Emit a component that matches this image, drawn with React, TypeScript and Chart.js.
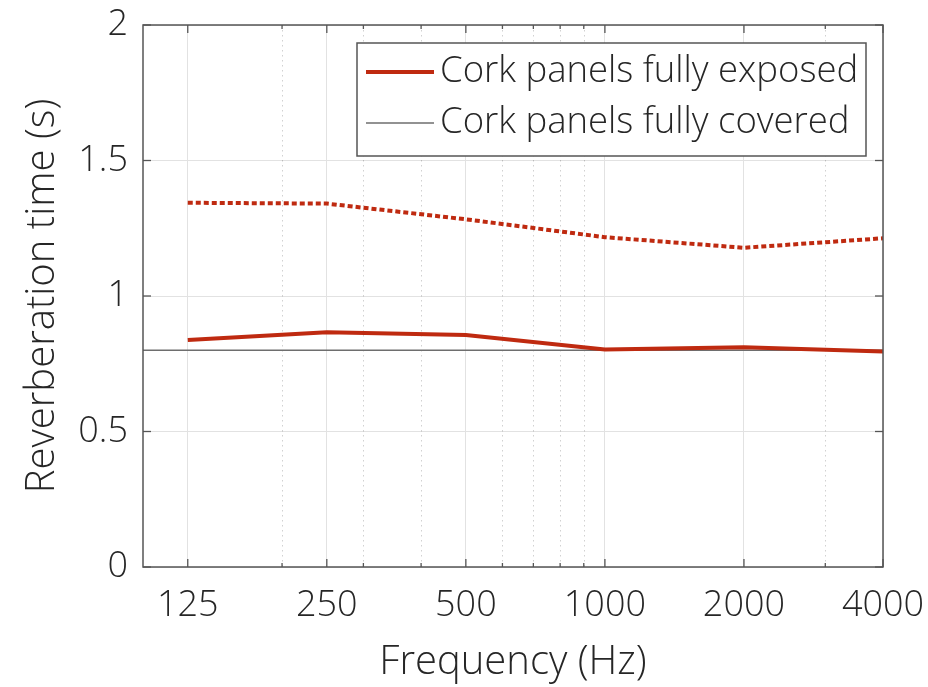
import { useEffect, useRef } from 'react';
import { Chart, registerables } from 'chart.js';

Chart.register(...registerables);

// ---- data ----
const frequencies = [125, 250, 500, 1000, 2000, 4000];
const exposedValues = [0.838, 0.866, 0.856, 0.803, 0.811, 0.795];
const dottedValues = [1.344, 1.341, 1.283, 1.217, 1.178, 1.213];
const coveredFrequencies = [100, 4000];
const coveredValues = [0.8, 0.8];
const xMajorTicks = [125, 250, 500, 1000, 2000, 4000];
const xMinorTicks = [200, 300, 400, 600, 700, 800, 900, 3000];
const yTicks = [0, 0.5, 1, 1.5, 2];
const seriesLabels = ['Cork panels fully exposed', 'Cork panels fully covered', 'Unlabelled series'];

const FONT = '"Open Sans", "DejaVu Sans", sans-serif';
const TEXT = '#262626';
const RED = '#bf2a10';
const GRAY = '#6e6e6e';

const framePlugin = {
  id: 'frame',
  beforeDatasetsDraw(chart: any) {
    const { ctx, chartArea, scales } = chart;
    const { top, bottom } = chartArea;
    ctx.save();
    ctx.strokeStyle = 'rgba(0,0,0,0.18)';
    ctx.lineWidth = 1;
    ctx.setLineDash([1.5, 3.5]);
    xMinorTicks.forEach((v) => {
      const px = Math.round(scales.x.getPixelForValue(v)) + 0.5;
      ctx.beginPath();
      ctx.moveTo(px, top);
      ctx.lineTo(px, bottom);
      ctx.stroke();
    });
    ctx.restore();
  },
  afterDatasetsDraw(chart: any) {
    const { ctx, chartArea, scales } = chart;
    const { left, right, top, bottom } = chartArea;
    ctx.save();
    ctx.strokeStyle = '#555555';
    ctx.lineWidth = 1.5;
    ctx.setLineDash([]);
    ctx.strokeRect(left, top, right - left, bottom - top);
    const tick = (x1: number, y1: number, x2: number, y2: number) => {
      ctx.beginPath();
      ctx.moveTo(x1, y1);
      ctx.lineTo(x2, y2);
      ctx.stroke();
    };
    ctx.lineWidth = 1.3;
    xMajorTicks.forEach((v) => {
      const px = scales.x.getPixelForValue(v);
      tick(px, bottom, px, bottom - 8);
      tick(px, top, px, top + 8);
    });
    xMinorTicks.forEach((v) => {
      const px = scales.x.getPixelForValue(v);
      tick(px, bottom, px, bottom - 4);
      tick(px, top, px, top + 4);
    });
    yTicks.forEach((v) => {
      const py = scales.y.getPixelForValue(v);
      tick(left, py, left + 8, py);
      tick(right, py, right - 8, py);
    });
    ctx.restore();
  },
  afterDraw(chart: any) {
    const { ctx } = chart;
    const box = { left: 357, top: 43, right: 866, bottom: 156 };
    ctx.save();
    ctx.fillStyle = '#ffffff';
    ctx.fillRect(box.left, box.top, box.right - box.left, box.bottom - box.top);
    ctx.strokeStyle = '#555555';
    ctx.lineWidth = 1.5;
    ctx.strokeRect(box.left, box.top, box.right - box.left, box.bottom - box.top);
    const rows = [72, 123];
    [0, 1].forEach((i) => {
      const ds = chart.data.datasets[i];
      ctx.strokeStyle = ds.borderColor;
      ctx.lineWidth = ds.borderWidth;
      ctx.beginPath();
      ctx.moveTo(366, rows[i]);
      ctx.lineTo(434, rows[i]);
      ctx.stroke();
      ctx.fillStyle = TEXT;
      ctx.font = `300 36.5px ${FONT}`;
      ctx.textBaseline = 'middle';
      ctx.textAlign = 'left';
      ctx.fillText(ds.label, 440, rows[i]);
    });
    ctx.restore();
  },
};

export default function App() {
  const canvasRef = useRef<HTMLCanvasElement | null>(null);

  useEffect(() => {
    document.body.style.margin = '0';
    const canvas = canvasRef.current;
    if (!canvas) return;
    const chart = new Chart(canvas, {
      type: 'line',
      data: {
        datasets: [
          {
            label: seriesLabels[0],
            data: frequencies.map((f, i) => ({ x: f, y: exposedValues[i] })),
            borderColor: RED,
            borderWidth: 4,
            pointRadius: 0,
            tension: 0,
          },
          {
            label: seriesLabels[1],
            data: coveredFrequencies.map((f, i) => ({ x: f, y: coveredValues[i] })),
            borderColor: GRAY,
            borderWidth: 1.5,
            pointRadius: 0,
            tension: 0,
          },
          {
            label: seriesLabels[2],
            data: frequencies.map((f, i) => ({ x: f, y: dottedValues[i] })),
            borderColor: RED,
            borderWidth: 4,
            borderDash: [5, 3],
            pointRadius: 0,
            tension: 0,
          },
        ],
      },
      options: {
        animation: false,
        responsive: false,
        devicePixelRatio: 1,
        layout: { padding: { top: 25, right: 45, left: 0, bottom: 0 } },
        plugins: { legend: { display: false }, tooltip: { enabled: false } },
        scales: {
          x: {
            type: 'logarithmic',
            min: 100,
            max: 4000,
            afterBuildTicks: (scale: any) => {
              scale.ticks = xMajorTicks.map((v) => ({ value: v }));
            },
            afterFit: (scale: any) => {
              scale.height = 120;
              scale.paddingLeft = 0;
              scale.paddingRight = 0;
            },
            ticks: {
              autoSkip: false,
              maxRotation: 0,
              padding: 17,
              color: TEXT,
              font: { family: FONT, size: 36, weight: 300 },
              callback: (v: any) => String(v),
            },
            grid: { color: '#e2e2e2', lineWidth: 1, drawTicks: false },
            border: { display: false },
            title: {
              display: true,
              text: 'Frequency (Hz)',
              color: TEXT,
              font: { family: FONT, size: 40, weight: 300 },
              padding: { top: 0, bottom: 0 },
            },
          },
          y: {
            type: 'linear',
            min: 0,
            max: 2,
            afterBuildTicks: (scale: any) => {
              scale.ticks = yTicks.map((v) => ({ value: v }));
            },
            afterFit: (scale: any) => {
              scale.width = 143;
              scale.paddingTop = 0;
              scale.paddingBottom = 0;
            },
            ticks: {
              padding: 15,
              color: TEXT,
              font: { family: FONT, size: 36, weight: 300 },
              callback: (v: any) => String(v),
            },
            grid: { color: '#e2e2e2', lineWidth: 1, drawTicks: false },
            border: { display: false },
            title: {
              display: true,
              text: 'Reverberation time (s)',
              color: TEXT,
              font: { family: FONT, size: 40, weight: 300 },
              padding: { top: 19, bottom: 0 },
            },
          },
        },
      },
      plugins: [framePlugin],
    } as any);
    return () => chart.destroy();
  }, []);

  return (
    <div style={{ position: 'absolute', left: 0, top: 0, width: 928, height: 687, background: '#fff' }}>
      <canvas ref={canvasRef} width={928} height={687} />
    </div>
  );
}
